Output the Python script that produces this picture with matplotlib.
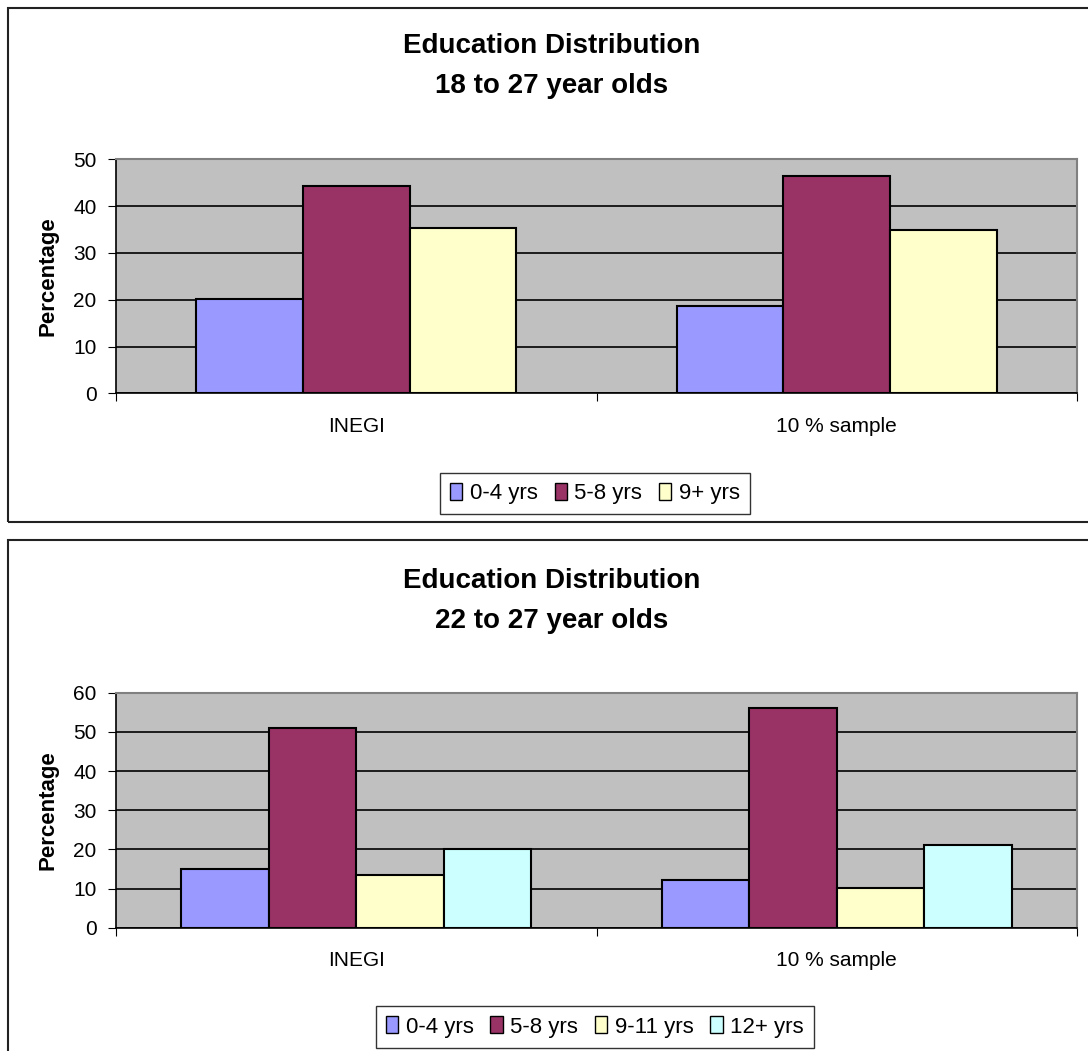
import numpy as np
import matplotlib.pyplot as plt
from matplotlib.patches import Rectangle

plt.rcParams['font.family'] = ['Liberation Sans', 'DejaVu Sans']

groups = ['INEGI', '10 % sample']

# chart 1: 18 to 27 year olds
labels_1 = ['0-4 yrs', '5-8 yrs', '9+ yrs']
vals_1 = [[20.1, 18.6],
          [44.4, 46.4],
          [35.3, 34.9]]

# chart 2: 22 to 27 year olds
labels_2 = ['0-4 yrs', '5-8 yrs', '9-11 yrs', '12+ yrs']
vals_2 = [[15.0, 12.2],
          [50.9, 56.2],
          [13.4, 10.1],
          [20.1, 21.1]]

colors = ['#9999FF', '#993366', '#FFFFCC', '#CCFFFF']

W, H = 1088, 1051
FS = 15
fig = plt.figure(figsize=(W / 100, H / 100), dpi=100)


def px(x0, y0, x1, y1):
    # pixel box -> figure fraction rect
    return [x0 / W, 1 - y1 / H, (x1 - x0) / W, (y1 - y0) / H]


def chart(rect, labels, vals, ymax, title, group_frac, title_y, leg_y):
    ax = fig.add_axes(rect)
    ax.set_facecolor('#C0C0C0')
    n = len(labels)
    bw = group_frac / n
    x = np.arange(len(groups))
    for i in range(n):
        ax.bar(x - group_frac / 2 + bw * (i + 0.5), vals[i], bw, color=colors[i],
               edgecolor='black', linewidth=1.5, label=labels[i], zorder=3)
    ax.set_xlim(-0.5, len(groups) - 0.5)
    ax.set_ylim(0, ymax)
    ax.set_yticks(np.arange(0, ymax + 1, 10))
    ax.yaxis.grid(True, color='black', linewidth=1.2, zorder=1)
    ax.set_axisbelow(True)
    for s in ['top', 'right']:
        ax.spines[s].set_color('#808080')
        ax.spines[s].set_linewidth(1.5)
    for s in ['left', 'bottom']:
        ax.spines[s].set_color('black')
        ax.spines[s].set_linewidth(1.2)
    ax.set_xticks(np.arange(-0.5, len(groups), 1))
    ax.set_xticklabels([])
    ax.set_xticks(x, minor=True)
    ax.set_xticklabels(groups, minor=True, fontsize=FS)
    ax.tick_params(axis='x', which='minor', length=0, pad=17)
    ax.tick_params(axis='x', which='major', length=6, direction='out')
    ax.tick_params(axis='y', length=6, labelsize=FS, pad=8)
    ax.set_ylabel('Percentage', fontsize=16, fontweight='bold')
    ax.yaxis.set_label_coords(-57 / 961, 0.5)

    fig.text(552 / W, 1 - title_y / H, title[0], ha='center', va='center',
             fontsize=20, fontweight='bold')
    fig.text(552 / W, 1 - (title_y + 40) / H, title[1], ha='center', va='center',
             fontsize=20, fontweight='bold')

    leg = ax.legend(loc='center', bbox_to_anchor=(595 / W, 1 - leg_y / H),
                    bbox_transform=fig.transFigure, ncol=n,
                    fontsize=16, frameon=True, fancybox=False, shadow=False,
                    edgecolor='black', handlelength=0.55, handleheight=0.8,
                    handletextpad=0.35, columnspacing=0.75, borderpad=0.45,
                    borderaxespad=0)
    leg.get_frame().set_linewidth(1.0)
    for h in leg.legend_handles:
        h.set_linewidth(1.0)
    return ax


chart(px(116, 159.3, 1077, 393.3), labels_1, vals_1, 50,
      ('Education Distribution', '18 to 27 year olds'), 2 / 3, 46, 493.5)
chart(px(116, 692.7, 1077, 927.7), labels_2, vals_2, 60,
      ('Education Distribution', '22 to 27 year olds'), 0.728, 581, 1027)

# outer chart boxes (right/bottom edges run off the image)
for (y0, y1) in [(8, 521.7), (540, 1070)]:
    fig.patches.append(Rectangle((8 / W, 1 - y1 / H), 1.2, (y1 - y0) / H,
                                 transform=fig.transFigure, fill=False,
                                 edgecolor='#222222', linewidth=1.5))

fig.savefig('out.png', dpi=100)
